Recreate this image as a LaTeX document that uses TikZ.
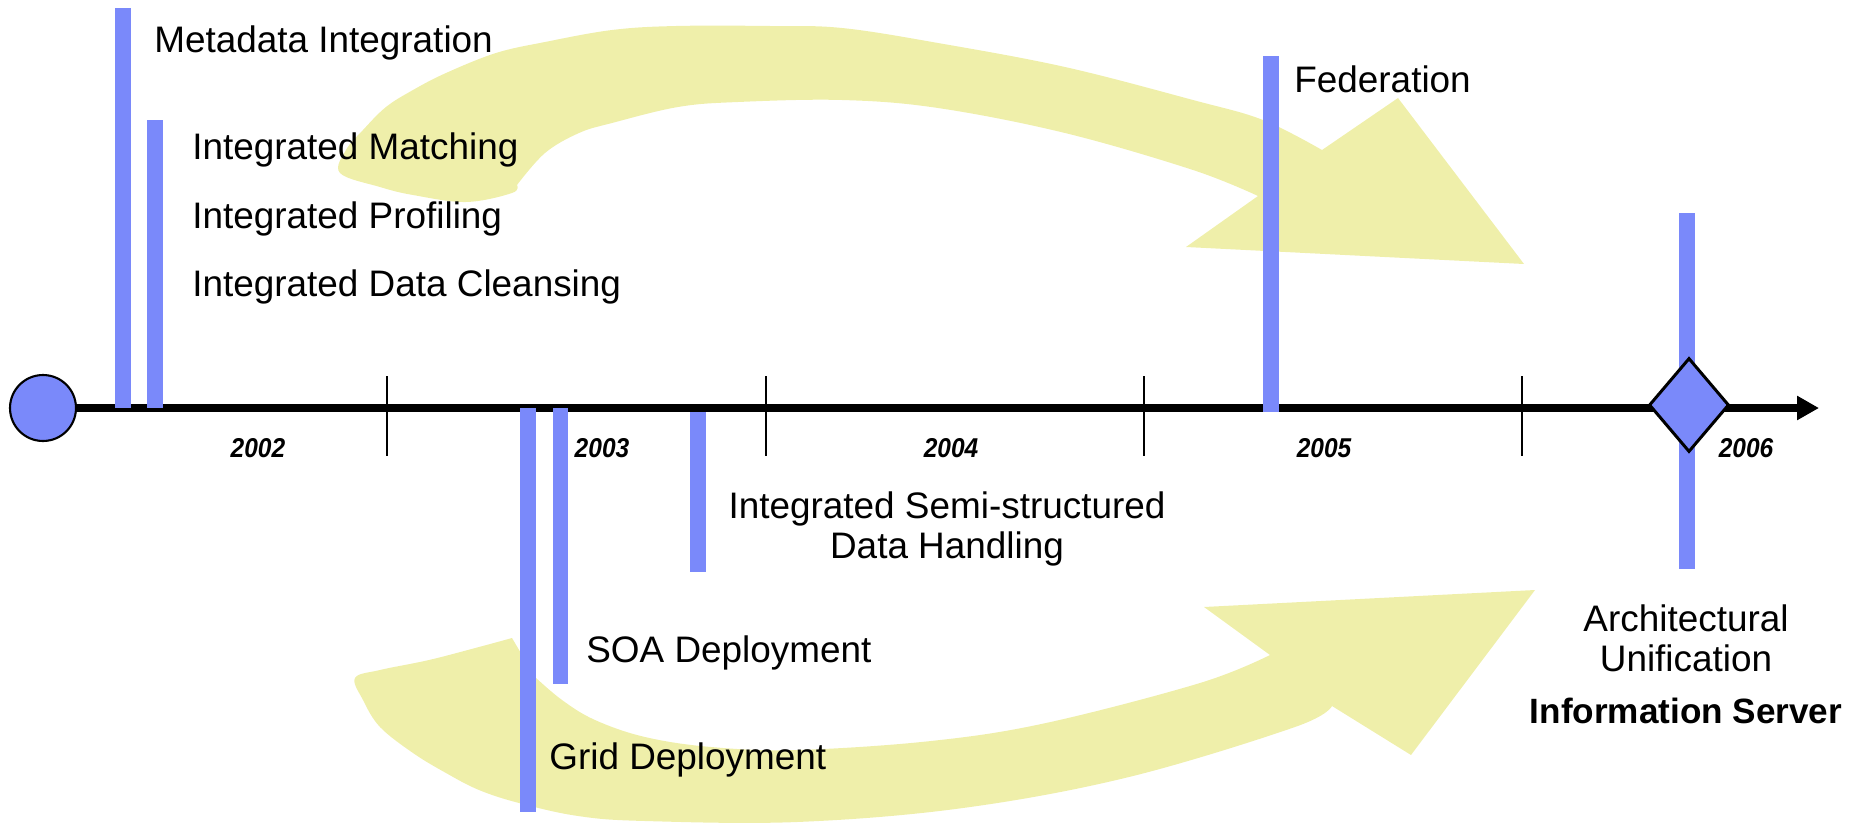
\documentclass[tikz,border=0pt]{standalone}
\usepackage{fontspec}
\setmainfont{Liberation Sans}
\newfontfamily\yearfont[FakeStretch=0.9]{Liberation Sans}
\usetikzlibrary{arrows.meta, shapes.geometric, positioning}
\definecolor{barblue}{RGB}{122,137,250}
\definecolor{paleyellow}{RGB}{239,239,170}
\tikzset{
		tbar/.style={fill=barblue},
		sweep/.style={fill=paleyellow},
		event/.style={inner sep=0pt, anchor=base west, font=\fontsize{21}{23}\selectfont},
		yearlbl/.style={inner sep=0pt, anchor=base, font=\yearfont\fontsize{15.5}{17}\selectfont\bfseries\itshape},
		yeartick/.style={line width=1.1pt},
		timeaxis/.style={line width=4.5pt, -{Triangle[length=0.44cm, width=0.46cm]}}
	}
\begin{document}
\begin{tikzpicture}[x=0.02cm, y=-0.02cm]
	\useasboundingbox (0,0) rectangle (1849,825);
	% sweeping arrows behind everything
	\fill[sweep] plot[smooth, tension=0.6] coordinates {(517,185) (545,153) (579,133) (612,123) (678,107) (738,102) (842,100) (938,108) (1065,133) (1193,170) (1258,196)}
		-- (1186,247) -- (1524,264) -- (1398,98) -- (1322,150)
		-- plot[smooth, tension=0.6] coordinates {(1322,150) (1263,120) (1193,100) (1065,67) (938,43) (842,28) (770,26) (676,26) (612,30) (545,42) (496,53) (446,73) (413,90) (386,107) (363,130) (346,150) (340,173) (380,187) (413,195) (466,202) (512,193) (517,185)} -- cycle;
	\fill[sweep] plot[smooth, tension=0.6] coordinates {(535,677) (562,700) (595,720) (645,737) (711,747) (797,750) (931,741) (1046,723) (1200,683) (1270,655)}
		-- (1204,607) -- (1535,590) -- (1411,755) -- (1332,706)
		-- plot[smooth, tension=0.6] coordinates {(1332,706) (1295,727) (1129,777) (963,808) (797,822) (645,821) (578,816) (519,803) (479,790) (446,773) (413,753) (380,727) (363,700) (355,678) (380,670) (429,660) (479,647) (512,638)} -- cycle;

	% time line
	\foreach \x in {387,766,1144,1522}
		\draw[yeartick] (\x,376) -- (\x,456);
	\node[circle, draw, fill=barblue, line width=1.2pt, minimum size=1.32cm, inner sep=0pt] (origin) at (43,408) {};
	\coordinate (axisend) at (1819,408);
	\draw[timeaxis] (origin.east) -- (axisend);
	\foreach \x/\yr in {258/2002, 602/2003, 951/2004, 1324/2005, 1746/2006}
		\node[yearlbl] (y\yr) at (\x,457) {\yr};

	% milestones
	\fill[tbar] (115,8) rectangle (131,408);
	\fill[tbar] (147,120) rectangle (163,408);
	\fill[tbar] (1263,56) rectangle (1279,412);
	\fill[tbar] (520,408) rectangle (536,812);
	\fill[tbar] (553,408) rectangle (568,684);
	\fill[tbar] (690,412) rectangle (706,572);
	\fill[tbar] (1679,213) rectangle (1695,569);
	\node[diamond, draw, fill=barblue, line width=1.7pt, minimum width=1.6cm, minimum height=1.88cm, inner sep=0pt] (unify) at (1689,405) {};

	\node[event] (meta) at (154,52) {Metadata Integration};
	\node[event] (match) at (192,159) {Integrated Matching};
	\node[event] (profile) at (192,228) {Integrated Profiling};
	\node[event] (cleanse) at (192,296) {Integrated Data Cleansing};
	\node[event] (fed) at (1294,92) {Federation};
	\node[event, anchor=north, align=center] (semi) at (947,491) {Integrated Semi-structured\\Data Handling};
	\node[event] (soa) at (586,662) {SOA Deployment};
	\node[event] (grid) at (549,769) {Grid Deployment};
	\node[event, anchor=north, align=center] (arch) at (1686,604) {Architectural\\Unification};
	\node[inner sep=0pt, font=\fontsize{20}{22}\selectfont\bfseries, below=0.5cm of arch] (server) {Information Server};
\end{tikzpicture}
\end{document}
